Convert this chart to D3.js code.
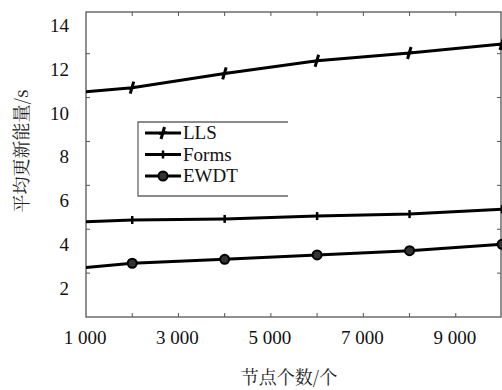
<!DOCTYPE html>
<html>
<head>
<meta charset="utf-8">
<script src="https://cdn.jsdelivr.net/npm/d3@7"></script>
<style>
body { margin: 0; background: #fff; }
</style>
</head>
<body>
<div id="chart"></div>
<script>
// data
const nodes = [1000, 2000, 4000, 6000, 8000, 10000];
const llsValues = [10.27, 10.45, 11.1, 11.68, 12.03, 12.44];
const formsValues = [4.34, 4.42, 4.47, 4.6, 4.69, 4.91];
const ewdtValues = [2.25, 2.45, 2.63, 2.83, 3.02, 3.31];
const seriesNames = ["LLS", "Forms", "EWDT"];
const xTickValues = [2000, 3000, 4000, 5000, 6000, 7000, 8000, 9000];
const xLabelValues = [1000, 3000, 5000, 7000, 9000];
const yTickValues = [2, 4, 6, 8, 10, 12, 14];

const svgWidth = 502;
const svgHeight = 390;
const plot = { left: 86, right: 501, top: 12, bottom: 317 };
const latinFont = "Liberation Serif";
const cjkFont = "Noto Serif CJK SC";

const svg = d3.select("#chart")
  .append("svg")
  .attr("width", svgWidth)
  .attr("height", svgHeight);

const x = d3.scaleLinear().domain([1000, 10000]).range([plot.left, 502]);
const y = d3.scaleLinear().domain([0, 13.9]).range([plot.bottom, plot.top]);

const fmt = d => d3.format(",")(d).replace(",", " ");

// frame
svg.append("rect")
  .attr("x", plot.left)
  .attr("y", plot.top)
  .attr("width", plot.right - plot.left)
  .attr("height", plot.bottom - plot.top)
  .attr("fill", "none")
  .attr("stroke", "#555")
  .attr("stroke-width", 1.3);

// inward ticks on all four sides
const tickColor = "#555";
svg.append("g").selectAll("line")
  .data(xTickValues)
  .join("line")
  .attr("x1", d => x(d)).attr("x2", d => x(d))
  .attr("y1", plot.bottom).attr("y2", plot.bottom - 4)
  .attr("stroke", tickColor);
svg.append("g").selectAll("line")
  .data(xTickValues)
  .join("line")
  .attr("x1", d => x(d)).attr("x2", d => x(d))
  .attr("y1", plot.top).attr("y2", plot.top + 4)
  .attr("stroke", tickColor);
svg.append("g").selectAll("line")
  .data(yTickValues.slice(0, 6))
  .join("line")
  .attr("x1", plot.left).attr("x2", plot.left + 4)
  .attr("y1", d => y(d)).attr("y2", d => y(d))
  .attr("stroke", tickColor);
svg.append("g").selectAll("line")
  .data(yTickValues.slice(0, 6))
  .join("line")
  .attr("x1", plot.right).attr("x2", plot.right - 4)
  .attr("y1", d => y(d)).attr("y2", d => y(d))
  .attr("stroke", tickColor);

// x tick labels
svg.append("g").selectAll("text")
  .data(xLabelValues)
  .join("text")
  .attr("x", d => x(d) - 1)
  .attr("y", 344)
  .attr("text-anchor", "middle")
  .attr("font-family", latinFont)
  .attr("font-size", 19)
  .attr("fill", "#111")
  .text(fmt);

// y tick labels (sit a bit below their ticks, as in the source figure)
svg.append("g").selectAll("text")
  .data(yTickValues)
  .join("text")
  .attr("x", 69)
  .attr("y", d => y(d) + 22)
  .attr("text-anchor", "end")
  .attr("font-family", latinFont)
  .attr("font-size", 19)
  .attr("fill", "#111")
  .text(d => d);

// axis titles
svg.append("text")
  .attr("x", 289)
  .attr("y", 384)
  .attr("text-anchor", "middle")
  .attr("font-family", cjkFont)
  .attr("font-size", 18)
  .attr("fill", "#222")
  .text("节点个数/个");

svg.append("text")
  .attr("transform", "translate(28, 151) rotate(-90)")
  .attr("text-anchor", "middle")
  .attr("font-family", cjkFont)
  .attr("font-size", 18)
  .attr("fill", "#222")
  .text("平均更新能量/s");

// lines
const seriesData = [llsValues, formsValues, ewdtValues].map((vals, i) => ({
  name: seriesNames[i],
  points: nodes.map((n, j) => ({ n: n, v: vals[j] }))
}));

const line = d3.line().x(d => x(d.n)).y(d => y(d.v));

svg.append("clipPath").attr("id", "clip")
  .append("rect")
  .attr("x", plot.left).attr("y", plot.top)
  .attr("width", svgWidth - plot.left).attr("height", plot.bottom - plot.top);

const plotGroup = svg.append("g").attr("clip-path", "url(#clip)");

plotGroup.selectAll("path.series")
  .data(seriesData)
  .join("path")
  .attr("class", "series")
  .attr("d", d => line(d.points))
  .attr("fill", "none")
  .attr("stroke", "#000")
  .attr("stroke-width", 3);

// markers
function drawMarker(g, name, cx, cy) {
  if (name === "LLS") {
    g.append("line")
      .attr("x1", cx - 2).attr("y1", cy + 6)
      .attr("x2", cx + 1.5).attr("y2", cy - 6)
      .attr("stroke", "#000").attr("stroke-width", 3);
    g.append("line")
      .attr("x1", cx - 4).attr("y1", cy + 1)
      .attr("x2", cx + 4).attr("y2", cy - 1)
      .attr("stroke", "#000").attr("stroke-width", 2);
  } else if (name === "Forms") {
    g.append("line")
      .attr("x1", cx).attr("y1", cy - 4)
      .attr("x2", cx).attr("y2", cy + 4)
      .attr("stroke", "#000").attr("stroke-width", 2.5);
  } else {
    g.append("circle")
      .attr("cx", cx).attr("cy", cy).attr("r", 4.5)
      .attr("fill", "#333")
      .attr("stroke", "#000").attr("stroke-width", 2);
  }
}

seriesData.forEach(s => {
  s.points.slice(1).forEach(p => drawMarker(plotGroup, s.name, x(p.n), y(p.v)));
});

// legend (its right edge is not visible in the source)
const legend = svg.append("g");
legend.append("rect")
  .attr("x", 138).attr("y", 122)
  .attr("width", 150).attr("height", 74)
  .attr("fill", "#fff");
legend.append("path")
  .attr("d", "M288,122H138V196H288")
  .attr("fill", "none")
  .attr("stroke", "#666")
  .attr("stroke-width", 1.3);

seriesNames.forEach((name, i) => {
  const ly = 133 + i * 21.5;
  legend.append("line")
    .attr("x1", 145).attr("x2", 181)
    .attr("y1", ly).attr("y2", ly)
    .attr("stroke", "#000").attr("stroke-width", 3);
  drawMarker(legend, name, 163, ly);
  legend.append("text")
    .attr("x", 183)
    .attr("y", ly + 6)
    .attr("font-family", latinFont)
    .attr("font-size", 19)
    .attr("fill", "#111")
    .text(name);
});
</script>
</body>
</html>
